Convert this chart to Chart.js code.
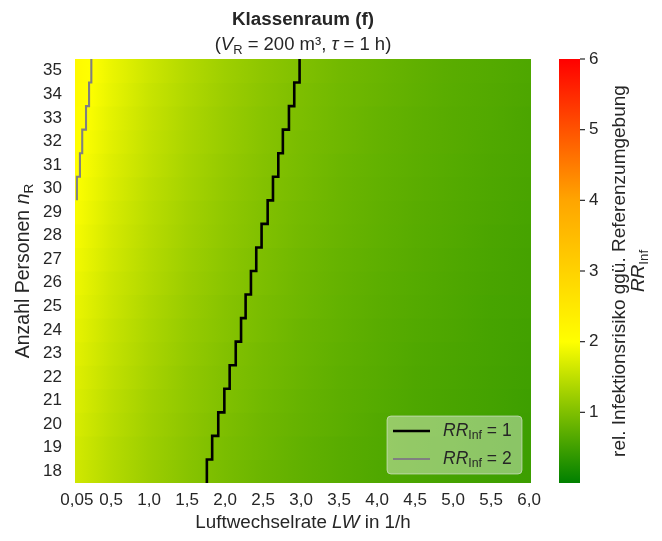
<!DOCTYPE html>
<html lang="de">
<head>
  <meta charset="UTF-8" />
  <title>Klassenraum (f)</title>
  <script src="https://cdn.jsdelivr.net/npm/chart.js@4"></script>
  <style>
    html, body { margin: 0; padding: 0; background: #fff; }
    #wrap { width: 662px; height: 541px; }
  </style>
</head>
<body>
  <div id="wrap"><canvas id="heat" width="662" height="541"></canvas></div>

  <script>
    const lwKnots = [0.05, 0.5, 1.0, 1.5, 2.0, 2.5, 3.0, 3.5, 4.0, 4.5, 5.0, 5.5, 6.0];
    const xTickLabels = ['0,05', '0,5', '1,0', '1,5', '2,0', '2,5', '3,0', '3,5', '4,0', '4,5', '5,0', '5,5', '6,0'];
    const halfCol = 0.025; // halbe Spaltenbreite des 0,05er Rasters
    const persons = [18, 19, 20, 21, 22, 23, 24, 25, 26, 27, 28, 29, 30, 31, 32, 33, 34, 35];

    // RR_Inf je Personenzahl (Zeile) an den LW-Stützstellen
    const rr18 = [1.62, 1.41, 1.22, 1.07, 0.94, 0.84, 0.76, 0.69, 0.63, 0.58, 0.54, 0.50, 0.47];
    const rr19 = [1.65, 1.43, 1.24, 1.09, 0.96, 0.86, 0.77, 0.70, 0.64, 0.59, 0.55, 0.51, 0.48];
    const rr20 = [1.68, 1.46, 1.26, 1.11, 0.98, 0.87, 0.79, 0.72, 0.65, 0.60, 0.56, 0.52, 0.48];
    const rr21 = [1.71, 1.48, 1.28, 1.13, 1.00, 0.89, 0.80, 0.73, 0.67, 0.61, 0.57, 0.53, 0.49];
    const rr22 = [1.74, 1.51, 1.31, 1.14, 1.01, 0.91, 0.82, 0.74, 0.68, 0.62, 0.58, 0.54, 0.50];
    const rr23 = [1.77, 1.54, 1.33, 1.16, 1.03, 0.92, 0.83, 0.75, 0.69, 0.63, 0.59, 0.55, 0.51];
    const rr24 = [1.80, 1.56, 1.35, 1.18, 1.05, 0.94, 0.84, 0.77, 0.70, 0.64, 0.60, 0.55, 0.52];
    const rr25 = [1.83, 1.59, 1.37, 1.20, 1.06, 0.95, 0.86, 0.78, 0.71, 0.66, 0.61, 0.56, 0.53];
    const rr26 = [1.86, 1.61, 1.40, 1.22, 1.08, 0.97, 0.87, 0.79, 0.72, 0.67, 0.62, 0.57, 0.54];
    const rr27 = [1.89, 1.64, 1.42, 1.24, 1.10, 0.98, 0.88, 0.80, 0.74, 0.68, 0.63, 0.58, 0.54];
    const rr28 = [1.92, 1.66, 1.44, 1.26, 1.12, 1.00, 0.90, 0.82, 0.75, 0.69, 0.64, 0.59, 0.55];
    const rr29 = [1.95, 1.69, 1.46, 1.28, 1.13, 1.01, 0.91, 0.83, 0.76, 0.70, 0.65, 0.60, 0.56];
    const rr30 = [1.98, 1.72, 1.48, 1.30, 1.15, 1.03, 0.93, 0.84, 0.77, 0.71, 0.66, 0.61, 0.57];
    const rr31 = [2.01, 1.74, 1.51, 1.32, 1.17, 1.04, 0.94, 0.85, 0.78, 0.72, 0.67, 0.62, 0.58];
    const rr32 = [2.03, 1.77, 1.53, 1.34, 1.19, 1.06, 0.95, 0.87, 0.79, 0.73, 0.68, 0.63, 0.59];
    const rr33 = [2.06, 1.79, 1.55, 1.36, 1.20, 1.07, 0.97, 0.88, 0.80, 0.74, 0.68, 0.64, 0.59];
    const rr34 = [2.09, 1.82, 1.57, 1.38, 1.22, 1.09, 0.98, 0.89, 0.82, 0.75, 0.69, 0.65, 0.60];
    const rr35 = [2.12, 1.84, 1.60, 1.40, 1.24, 1.11, 1.00, 0.90, 0.83, 0.76, 0.70, 0.66, 0.61];
    const rrRows = [rr18, rr19, rr20, rr21, rr22, rr23, rr24, rr25, rr26, rr27, rr28, rr29,
                    rr30, rr31, rr32, rr33, rr34, rr35];

    // Isolinien: LW, bei dem RR_Inf in der jeweiligen Zeile den Wert erreicht
    const rr1Persons = persons;
    const rr1LW = [1.76, 1.83, 1.91, 1.99, 2.06, 2.14, 2.21, 2.27, 2.34, 2.41, 2.48, 2.56,
                   2.63, 2.70, 2.76, 2.84, 2.91, 2.98];
    const rr2Persons = [30, 31, 32, 33, 34, 35];
    const rr2LW = [0.05, 0.09, 0.12, 0.17, 0.21, 0.24];

    const cbTicks = [1, 2, 3, 4, 5, 6];

    const TEXT = '#262626';
    const FONT = '"Liberation Sans", Arial, Helvetica, sans-serif';

    // Farbskala gruen -> gelb -> orange -> rot (0..6)
    const cmapNodes = [0, 2, 4, 6];
    const cmapRGB = [[0, 128, 0], [255, 255, 0], [255, 165, 0], [255, 0, 0]];

    function rrColor(v) {
      v = Math.max(0, Math.min(6, v));
      let i = 0;
      while (i < cmapNodes.length - 2 && v > cmapNodes[i + 1]) i++;
      const t = (v - cmapNodes[i]) / (cmapNodes[i + 1] - cmapNodes[i]);
      const a = cmapRGB[i], b = cmapRGB[i + 1];
      const c = a.map((x, j) => Math.round(x + (b[j] - x) * t));
      return 'rgb(' + c.join(',') + ')';
    }

    function segFill(lo, hi, k0, k1) {
      return function (ctx) {
        if (ctx.type !== 'data') return 'rgba(0,0,0,0)';
        const row = rrRows[ctx.dataIndex];
        const v0 = row[k0], v1 = row[k1];
        const xs = ctx.chart.scales.x;
        if (!xs || k0 === k1) return rrColor(v0);
        const p0 = xs.getPixelForValue(lo), p1 = xs.getPixelForValue(hi);
        if (!isFinite(p0) || !isFinite(p1) || p0 === p1) return rrColor((v0 + v1) / 2);
        const g = ctx.chart.ctx.createLinearGradient(p0, 0, p1, 0);
        g.addColorStop(0, rrColor(v0));
        cmapNodes.forEach(nv => {
          if ((nv - v0) * (nv - v1) < 0) g.addColorStop((nv - v0) / (v1 - v0), rrColor(nv));
        });
        g.addColorStop(1, rrColor(v1));
        return g;
      };
    }

    // Heatmap als schwebende Balken je LW-Abschnitt
    const edges = [lwKnots[0] - halfCol].concat(lwKnots, [lwKnots[lwKnots.length - 1] + halfCol]);
    const heatSets = [];
    for (let k = 0; k < edges.length - 1; k++) {
      const lo = edges[k], hi = edges[k + 1];
      const k0 = Math.max(k - 1, 0), k1 = Math.min(k, lwKnots.length - 1);
      heatSets.push({
        type: 'bar',
        order: 1,
        data: persons.map(n => ({ x: [lo, hi], y: n })),
        backgroundColor: segFill(lo, hi, k0, k1),
        borderWidth: 0,
        inflateAmount: 0.5,
        barPercentage: 1,
        categoryPercentage: 1,
        grouped: false
      });
    }

    function stairs(rows, lw) {
      const pts = rows.map((n, i) => ({ x: lw[i], y: n - 0.5 }));
      pts.push({ x: lw[lw.length - 1], y: rows[rows.length - 1] + 0.5 });
      return pts;
    }

    const lineSets = [
      { type: 'line', order: 0, data: stairs(rr1Persons, rr1LW), borderColor: '#000', borderWidth: 2.6,
        stepped: 'after', pointRadius: 0, fill: false, borderJoinStyle: 'miter' },
      { type: 'line', order: 0, data: stairs(rr2Persons, rr2LW), borderColor: '#808080', borderWidth: 2.1,
        stepped: 'after', pointRadius: 0, fill: false, borderJoinStyle: 'miter' }
    ];

    // Text mit kursiven / tiefgestellten Teilen
    const R = t => ({ t });
    const I = t => ({ t, italic: true });
    const S = t => ({ t, sub: true });

    function fontOf(r, size) {
      const s = r.sub ? size * 0.7 : size;
      return (r.italic ? 'italic ' : '') + (r.bold ? 'bold ' : '') + s.toFixed(1) + 'px ' + FONT;
    }
    function drawRuns(ctx, runs, x, y, size, opts) {
      opts = opts || {};
      ctx.save();
      ctx.translate(x, y);
      if (opts.rotate) ctx.rotate(opts.rotate);
      ctx.fillStyle = opts.color || TEXT;
      ctx.textBaseline = 'middle';
      ctx.textAlign = 'left';
      let w = 0;
      runs.forEach(r => { ctx.font = fontOf(r, size); w += ctx.measureText(r.t).width; });
      let cx = opts.align === 'left' ? 0 : -w / 2;
      runs.forEach(r => {
        ctx.font = fontOf(r, size);
        ctx.fillText(r.t, cx, r.sub ? size * 0.28 : 0);
        cx += ctx.measureText(r.t).width;
      });
      ctx.restore();
    }

    const noPad = s => { s.paddingTop = 0; s.paddingBottom = 0; s.paddingLeft = 0; s.paddingRight = 0; };

    const decor = {
      id: 'decor',
      afterDraw(chart) {
        const ctx = chart.ctx;
        const area = chart.chartArea;
        const midX = (area.left + area.right) / 2;

        // Titel
        drawRuns(ctx, [{ t: 'Klassenraum (f)', bold: true }], midX, 20, 18.8);
        drawRuns(ctx, [R('('), I('V'), S('R'), R(' = 200 m³, '), I('τ'), R(' = 1 h)')], midX, 45, 18.5);

        // Achsentitel
        drawRuns(ctx, [R('Luftwechselrate '), I('LW'), R(' in 1/h')], midX, 523, 18.8);
        drawRuns(ctx, [R('Anzahl Personen '), I('n'), S('R')], 24, (area.top + area.bottom) / 2, 19.5,
                 { rotate: -Math.PI / 2 });

        // Farbskala
        const cbX = 559, cbW = 21, cbTop = area.top, cbBot = area.bottom;
        const g = ctx.createLinearGradient(0, cbBot, 0, cbTop);
        cmapNodes.forEach((nv, i) => g.addColorStop(nv / 6, 'rgb(' + cmapRGB[i].join(',') + ')'));
        ctx.save();
        ctx.fillStyle = g;
        ctx.fillRect(cbX, cbTop, cbW, cbBot - cbTop);
        ctx.strokeStyle = TEXT;
        ctx.lineWidth = 1.2;
        ctx.fillStyle = TEXT;
        ctx.font = '17px ' + FONT;
        ctx.textBaseline = 'middle';
        ctx.textAlign = 'left';
        cbTicks.forEach(v => {
          const y = cbBot - (v / 6) * (cbBot - cbTop);
          ctx.beginPath();
          ctx.moveTo(cbX + cbW, y);
          ctx.lineTo(cbX + cbW + 5, y);
          ctx.stroke();
          ctx.fillText(String(v), cbX + cbW + 9, y);
        });
        ctx.restore();
        const cbMid = (cbTop + cbBot) / 2;
        drawRuns(ctx, [R('rel. Infektionsrisiko ggü. Referenzumgebung')], 620, cbMid, 19, { rotate: -Math.PI / 2 });
        drawRuns(ctx, [I('RR'), S('Inf')], 639, cbMid, 19, { rotate: -Math.PI / 2 });

        // Legende
        const lx = 387, ly = 416, lw = 135, lh = 58;
        ctx.save();
        ctx.beginPath();
        ctx.roundRect(lx, ly, lw, lh, 4);
        ctx.fillStyle = 'rgba(255,255,255,0.4)';
        ctx.fill();
        ctx.strokeStyle = 'rgba(235,235,235,0.55)';
        ctx.lineWidth = 1;
        ctx.stroke();
        [[lineSets[0], 1, 431], [lineSets[1], 2, 459]].forEach(([ds, val, y]) => {
          ctx.beginPath();
          ctx.strokeStyle = ds.borderColor;
          ctx.lineWidth = ds.borderWidth;
          ctx.moveTo(393, y);
          ctx.lineTo(430, y);
          ctx.stroke();
          drawRuns(ctx, [I('RR'), S('Inf'), R(' = ' + val)], 443, y, 17.5, { align: 'left' });
        });
        ctx.restore();
      }
    };

    new Chart(document.getElementById('heat'), {
      type: 'bar',
      data: { datasets: lineSets.concat(heatSets) },
      options: {
        indexAxis: 'y',
        responsive: false,
        animation: false,
        devicePixelRatio: 1,
        layout: { padding: { left: 0, top: 59, right: 131, bottom: 0 } },
        plugins: { legend: { display: false }, tooltip: { enabled: false } },
        scales: {
          x: {
            type: 'linear',
            position: 'bottom',
            offset: false,
            min: lwKnots[0] - halfCol,
            max: lwKnots[lwKnots.length - 1] + halfCol,
            grid: { display: false, drawTicks: false, offset: false },
            border: { display: false },
            afterBuildTicks: s => { s.ticks = lwKnots.map(v => ({ value: v })); },
            afterFit: s => { s.height = 58; noPad(s); },
            ticks: {
              autoSkip: false, maxRotation: 0, padding: 7, color: TEXT,
              font: { size: 17, family: FONT },
              callback: (v, i) => xTickLabels[i]
            }
          },
          y: {
            type: 'linear',
            position: 'left',
            offset: false,
            min: persons[0] - 0.5,
            max: persons[persons.length - 1] + 0.5,
            grid: { display: false, drawTicks: false, offset: false },
            border: { display: false },
            afterBuildTicks: s => { s.ticks = persons.map(v => ({ value: v })); },
            afterFit: s => { s.width = 75; noPad(s); },
            ticks: {
              autoSkip: false, padding: 13, color: TEXT,
              font: { size: 17, family: FONT },
              callback: v => String(v)
            }
          }
        }
      },
      plugins: [decor]
    });
  </script>
</body>
</html>
